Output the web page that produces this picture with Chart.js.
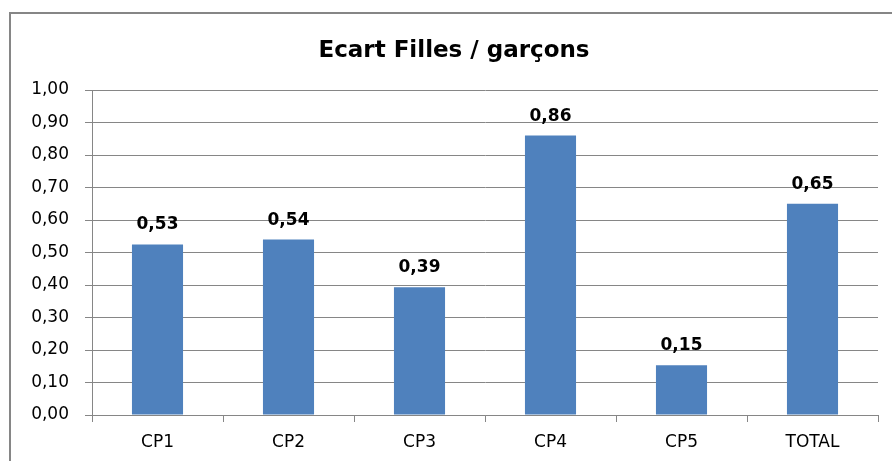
<!DOCTYPE html>
<html><head><meta charset="utf-8">
<script src="https://cdn.jsdelivr.net/npm/chart.js@4"></script>
<style>html,body{margin:0;padding:0;background:#fff}#wrap{width:892px;height:461px;position:relative}</style>
</head><body><div id="wrap"><canvas id="c" width="892" height="461"></canvas></div>
<script>
const categories = ["CP1", "CP2", "CP3", "CP4", "CP5", "TOTAL"];
const values = [0.525, 0.54, 0.393, 0.86, 0.153, 0.65];
const titleText = "Ecart Filles / garçons";
const FONT = "'DejaVu Sans', sans-serif";
const fmt = v => v.toFixed(2).replace(".", ",");

const framePlugin = {
  id: "frame",
  beforeDraw(chart) {
    const ctx = chart.ctx;
    ctx.save();
    ctx.fillStyle = "#fff";
    ctx.fillRect(0, 0, chart.width, chart.height);
    ctx.strokeStyle = "#868686";
    ctx.lineWidth = 2;
    ctx.strokeRect(10, 13, 1000, 1000);
    ctx.fillStyle = "#000";
    ctx.font = "bold 23px " + FONT;
    ctx.textAlign = "center";
    ctx.textBaseline = "alphabetic";
    ctx.fillText(titleText, 454, 57);
    ctx.restore();
  }
};
const labelPlugin = {
  id: "labels",
  afterDatasetsDraw(chart) {
    const ctx = chart.ctx;
    const meta = chart.getDatasetMeta(0);
    ctx.save();
    ctx.fillStyle = "#000";
    ctx.font = "bold 17px " + FONT;
    ctx.textAlign = "center";
    ctx.textBaseline = "alphabetic";
    meta.data.forEach((el, i) => {
      ctx.fillText(fmt(values[i]), el.x, el.y - 15);
    });
    ctx.restore();
  }
};

new Chart(document.getElementById("c"), {
  type: "bar",
  data: {
    labels: categories,
    datasets: [{
      data: values,
      backgroundColor: "#4F81BD",
      borderWidth: 0,
      barPercentage: 0.39,
      categoryPercentage: 1.0
    }]
  },
  options: {
    responsive: false,
    animation: false,
    events: [],
    layout: { padding: { top: 90, right: 14, left: 0, bottom: 0 } },
    plugins: { legend: { display: false }, title: { display: false }, tooltip: { enabled: false } },
    scales: {
      x: {
        grid: { display: true, drawOnChartArea: false, drawTicks: true, tickLength: 7, offset: true, color: "#868686", lineWidth: 1 },
        border: { display: true, color: "#868686", width: 1 },
        ticks: { color: "#000", font: { family: FONT, size: 17 }, padding: 10 },
        afterFit(s) { s.height = 46; }
      },
      y: {
        min: 0, max: 1,
        grid: { color: "#868686", lineWidth: 1, tickLength: 7 },
        border: { display: true, color: "#868686", width: 1 },
        ticks: { stepSize: 0.1, color: "#000", font: { family: FONT, size: 17 }, padding: 16,
          callback: v => fmt(v) },
        afterFit(s) { s.width = 92; }
      }
    }
  },
  plugins: [framePlugin, labelPlugin]
});
</script></body></html>
